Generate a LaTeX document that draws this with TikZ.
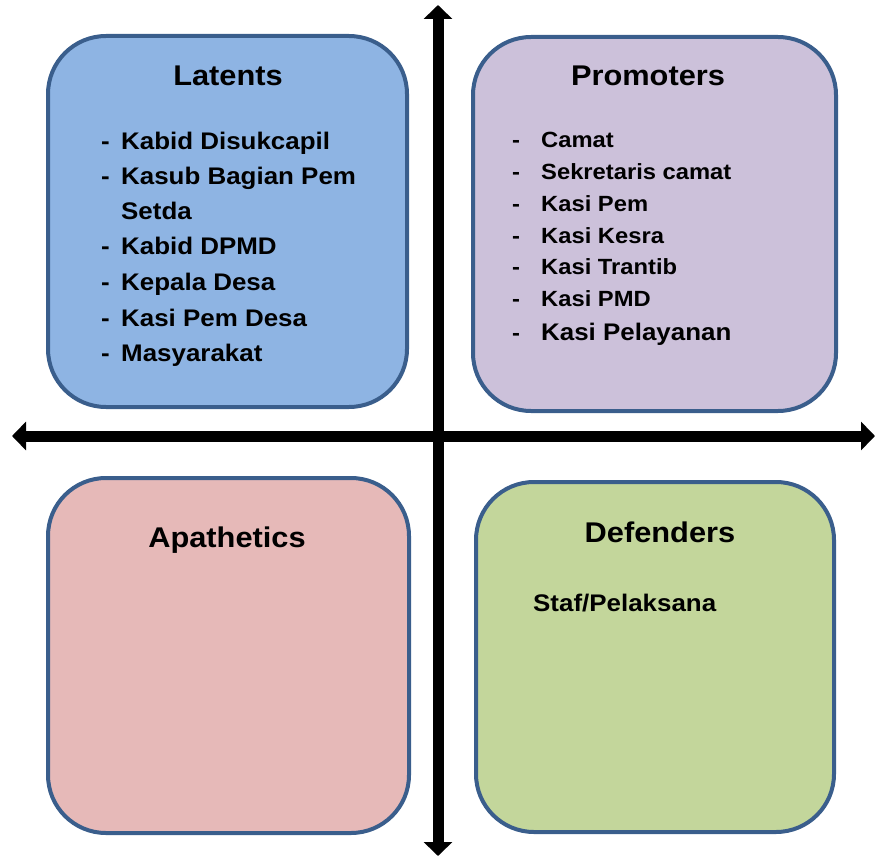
\documentclass[tikz,border=0pt]{standalone}
\usepackage{fontspec}
\setmainfont{Liberation Sans}[FakeStretch=1.08]
\usetikzlibrary{arrows.meta}

\definecolor{frameblue}{HTML}{3A5E8C}
\definecolor{latentfill}{HTML}{8EB4E3}
\definecolor{promofill}{HTML}{CCC1DA}
\definecolor{apathfill}{HTML}{E6B9B8}
\definecolor{defendfill}{HTML}{C3D69B}

\begin{document}
\begin{tikzpicture}[x=1pt,y=-1pt,
    quad/.style={draw=frameblue,line width=4pt,rounded corners=58pt,inner sep=0pt},
    axis/.style={{Triangle[length=14pt,width=28pt]}-{Triangle[length=14pt,width=28pt]},line width=11pt,black},
    title/.style={anchor=base,font=\bfseries\fontsize{28.5}{30}\selectfont},
    item/.style={anchor=base west,inner sep=0pt,font=\bfseries\fontsize{24}{26}\selectfont},
    pitem/.style={anchor=base west,inner sep=0pt,font=\bfseries\fontsize{22}{24}\selectfont}]
    \useasboundingbox (0,0) rectangle (875,856);

    % the four quadrants
    \node[quad,fill=latentfill,minimum width=359pt,minimum height=371pt] (latents) at (227.5,221.5) {};
    \node[quad,fill=promofill,minimum width=363pt,minimum height=374pt] (promoters) at (654.5,224) {};
    \node[quad,fill=apathfill,minimum width=361pt,minimum height=355pt] (apathetics) at (228.5,655.5) {};
    \node[quad,fill=defendfill,minimum width=358pt,minimum height=350pt] (defenders) at (655,657) {};

    % axes
    \coordinate (top) at (438,5);
    \coordinate (bottom) at (438,856);
    \coordinate (left) at (12,436);
    \coordinate (right) at (875,436);
    \draw[axis] (bottom) -- (top);
    \draw[axis] (left) -- (right);

    % titles
    \node[title] (tlat) at (228,86) {Latents};
    \node[title] (tpro) at (648,86) {Promoters};
    \node[title] (tapa) at (227,547) {Apathetics};
    \node[title] (tdef) at (660,542) {Defenders};

    % latents list
    \foreach \yy/\txt [count=\i] in {149.5/Kabid Disukcapil,184.5/Kasub Bagian Pem,254.5/Kabid DPMD,290.5/Kepala Desa,326.5/Kasi Pem Desa,361.5/Masyarakat} {
      \node[item] (ldash\i) at (101,\yy) {-};
      \node[item] (lit\i) at (121,\yy) {\txt};
    }
    \node[item] (lit7) at (121,219.5) {Setda};

    % promoters list
    \foreach \yy/\txt [count=\i] in {147/Camat,179/Sekretaris camat,211/Kasi Pem,243/Kasi Kesra,274/Kasi Trantib,306/Kasi PMD} {
      \node[pitem] (pdash\i) at (512,\yy) {-};
      \node[pitem] (pit\i) at (541,\yy) {\txt};
    }
    \node[pitem] (pdash7) at (512,340.5) {-};
    \node[item] (pit7) at (541,340.5) {Kasi Pelayanan};

    % defenders
    \node[item] (staf) at (533,611) {Staf/Pelaksana};
\end{tikzpicture}
\end{document}
